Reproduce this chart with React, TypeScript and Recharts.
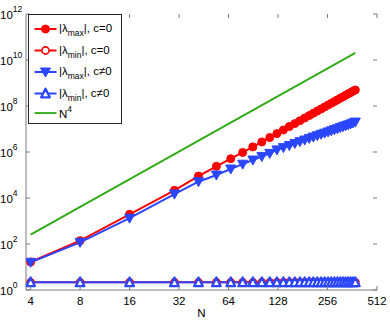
import React from 'react';
import { ComposedChart, Line, XAxis, YAxis, Legend } from 'recharts';

// N values (x)
const nValues = [
  4, 8, 16, 30, 42, 54, 66, 78, 90, 102, 114, 126, 138, 150, 162, 174, 186,
  198, 210, 222, 234, 246, 258, 270, 282, 294, 306, 318, 330, 342, 354, 366, 378,
];

// |lambda_max|, c=0
const maxC0 = [
  16.5, 140, 1960, 2.15e4, 9.0e4, 2.38e5, 5.12e5, 9.6e5, 1.67e6, 2.73e6, 4.24e6,
  6.3e6, 9.07e6, 1.27e7, 1.72e7, 2.29e7, 2.99e7, 3.84e7, 4.84e7, 6.05e7, 7.47e7,
  9.08e7, 1.1e8, 1.32e8, 1.56e8, 1.85e8, 2.17e8, 2.52e8, 2.92e8, 3.37e8, 3.85e8,
  4.4e8, 5.0e8,
];

// |lambda_min|, c=0
const minC0 = [
  2.15, 2.15, 2.15, 2.15, 2.15, 2.15, 2.15, 2.15, 2.15, 2.15, 2.15, 2.15, 2.15,
  2.15, 2.15, 2.15, 2.15, 2.15, 2.15, 2.15, 2.15, 2.15, 2.15, 2.15, 2.15, 2.15,
  2.15, 2.15, 2.15, 2.15, 2.15, 2.15, 2.15,
];

// |lambda_max|, c!=0
const maxC1 = [
  16, 118, 1320, 1.48e4, 5.1e4, 1.0e5, 1.82e5, 2.95e5, 4.47e5, 6.3e5, 8.7e5,
  1.23e6, 1.55e6, 1.91e6, 2.34e6, 2.82e6, 3.31e6, 3.89e6, 4.47e6, 5.13e6, 5.89e6,
  6.61e6, 7.41e6, 8.32e6, 9.33e6, 1.02e7, 1.15e7, 1.26e7, 1.38e7, 1.51e7, 1.66e7,
  1.82e7, 2.0e7,
];

// |lambda_min|, c!=0
const minC1 = [
  2.15, 2.15, 2.15, 2.15, 2.15, 2.15, 2.15, 2.15, 2.15, 2.15, 2.15, 2.15, 2.15,
  2.15, 2.15, 2.15, 2.15, 2.15, 2.15, 2.15, 2.15, 2.15, 2.15, 2.15, 2.15, 2.15,
  2.15, 2.15, 2.15, 2.15, 2.15, 2.15, 2.15,
];

// reference N^4 line, end points
const refN = [4, 378];
const refValues = [256, 20415837456];

const xTicks = [4, 8, 16, 32, 64, 128, 256, 512];
const yTicks = [1, 1e2, 1e4, 1e6, 1e8, 1e10, 1e12];
const yExponents = ['0', '2', '4', '6', '8', '10', '12'];

const data = nValues.map((n, i) => ({
  N: n,
  maxC0: maxC0[i],
  minC0: minC0[i],
  maxC1: maxC1[i],
  minC1: minC1[i],
}));
const refData = refN.map((n, i) => ({ N: n, ref: refValues[i] }));

const W = 390;
const H = 323;
const PLOT_LEFT = 26;
const PLOT_TOP = 14;
const PLOT_RIGHT = 377;
const PLOT_BOTTOM = 290;
const AXIS = '#7a7a7a';
const RED = '#ff0000';
const BLUE = '#2a46ff';
const GREEN = '#2eaa12';
const FONT = '"Liberation Sans", Arial, Helvetica, sans-serif';

const circleFilled = (color: string) => (p: any) => (
  <circle key={`cf${p.index}`} cx={p.cx} cy={p.cy} r={4} fill={color} stroke={color} strokeWidth={1} />
);
const circleOpen = (color: string) => (p: any) => (
  <circle key={`co${p.index}`} cx={p.cx} cy={p.cy} r={3.6} fill="#fff" stroke={color} strokeWidth={1.6} />
);
const triDown = (color: string) => (p: any) => (
  <path
    key={`td${p.index}`}
    d={`M${p.cx - 5},${p.cy - 4}L${p.cx + 5},${p.cy - 4}L${p.cx},${p.cy + 5}Z`}
    fill={color}
    stroke={color}
    strokeWidth={1}
  />
);
const triUp = (color: string) => (p: any) => (
  <path
    key={`tu${p.index}`}
    d={`M${p.cx - 4.3},${p.cy + 3.8}L${p.cx + 4.3},${p.cy + 3.8}L${p.cx},${p.cy - 4.8}Z`}
    fill="#fff"
    stroke={color}
    strokeWidth={2.3}
    strokeLinejoin="round"
  />
);

const XTick = (props: any) => {
  const { x, y, payload } = props;
  return (
    <g>
      <line x1={x} x2={x} y1={y} y2={y - 4} stroke={AXIS} />
      <line x1={x} x2={x} y1={PLOT_TOP} y2={PLOT_TOP + 4} stroke={AXIS} />
      <text x={x} y={y + 15} textAnchor="middle" fontSize={11.5} fontFamily={FONT} fill="#000">
        {payload.value}
      </text>
    </g>
  );
};

const YTick = (props: any) => {
  const { x, y, index } = props;
  return (
    <g>
      <line x1={x} x2={x + 4} y1={y} y2={y} stroke={AXIS} />
      <line x1={PLOT_RIGHT} x2={PLOT_RIGHT - 4} y1={y} y2={y} stroke={AXIS} />
      <text x={0} y={y + 4.5} fontSize={11.5} fontFamily={FONT} fill="#000">
        10
        <tspan dy={-6.5} fontSize={8.5}>
          {yExponents[index]}
        </tspan>
      </text>
    </g>
  );
};

const legendItems = [
  { sub: 'max', tail: '|, c=0', color: RED, marker: 'cf' },
  { sub: 'min', tail: '|, c=0', color: RED, marker: 'co' },
  { sub: 'max', tail: '|, c\u22600', color: BLUE, marker: 'td' },
  { sub: 'min', tail: '|, c\u22600', color: BLUE, marker: 'tu' },
  { sub: '', tail: '', color: GREEN, marker: 'none' },
];

const LegendBox = () => {
  const rows = [29.5, 51, 72.5, 94, 113.5];
  return (
    <svg width={94} height={110} style={{ display: 'block' }}>
      <rect x={0.5} y={0.5} width={93} height={109} fill="#fff" stroke="#262626" strokeWidth={1} />
      {legendItems.map((it, i) => {
        const cy = rows[i] - 14.5;
        const cx = 17.5;
        const p = { cx, cy, index: i };
        let m: any = null;
        if (it.marker === 'cf') m = circleFilled(it.color)(p);
        if (it.marker === 'co') m = circleOpen(it.color)(p);
        if (it.marker === 'td') m = triDown(it.color)(p);
        if (it.marker === 'tu') m = triUp(it.color)(p);
        return (
          <g key={i}>
            <line x1={6.5} x2={28.5} y1={cy} y2={cy} stroke={it.color} strokeWidth={it.marker === 'none' ? 1.8 : 2} />
            {m}
            {it.marker === 'none' ? (
              <text x={31} y={cy + 4.5} fontSize={11.5} fontFamily={FONT} fill="#000">
                N
                <tspan dy={-6} fontSize={8.5}>
                  4
                </tspan>
              </text>
            ) : (
              <text x={31} y={cy + 3} fontSize={11.5} fontFamily={FONT} fill="#000">
                |λ
                <tspan dy={4} fontSize={8.5}>
                  {it.sub}
                </tspan>
                <tspan dy={-4}>{it.tail}</tspan>
              </text>
            )}
          </g>
        );
      })}
    </svg>
  );
};

export default function App() {
  return (
    <div style={{ position: 'absolute', left: 0, top: 0, width: W, height: H, background: '#fff' }}>
      <ComposedChart
        width={W}
        height={H}
        margin={{ top: PLOT_TOP, right: W - PLOT_RIGHT, bottom: 0, left: 0 }}
      >
        <XAxis
          dataKey="N"
          type="number"
          scale="log"
          domain={[3.75, 512]}
          ticks={xTicks}
          allowDataOverflow
          height={H - PLOT_BOTTOM}
          tickSize={0}
          tickMargin={0}
          tickLine={false}
          axisLine={{ stroke: AXIS }}
          tick={<XTick />}
          interval={0}
        />
        <XAxis
          xAxisId="top"
          orientation="top"
          type="number"
          scale="log"
          domain={[3.75, 512]}
          ticks={xTicks}
          allowDataOverflow
          height={0}
          tick={false}
          tickLine={false}
          axisLine={{ stroke: AXIS }}
        />
        <YAxis
          type="number"
          scale="log"
          domain={[1, 1e12]}
          ticks={yTicks}
          allowDataOverflow
          width={PLOT_LEFT}
          tickSize={0}
          tickMargin={0}
          tickLine={false}
          axisLine={{ stroke: AXIS }}
          tick={<YTick />}
          interval={0}
        />
        <YAxis
          yAxisId="right"
          orientation="right"
          type="number"
          scale="log"
          domain={[1, 1e12]}
          ticks={yTicks}
          allowDataOverflow
          width={0}
          tick={false}
          tickLine={false}
          axisLine={{ stroke: AXIS }}
        />
        <Line
          data={data}
          dataKey="maxC0"
          stroke={RED}
          strokeWidth={2}
          dot={circleFilled(RED)}
          isAnimationActive={false}
        />
        <Line
          data={data}
          dataKey="minC0"
          stroke={RED}
          strokeWidth={2}
          dot={circleOpen(RED)}
          isAnimationActive={false}
        />
        <Line
          data={data}
          dataKey="maxC1"
          stroke={BLUE}
          strokeWidth={2}
          dot={triDown(BLUE)}
          isAnimationActive={false}
        />
        <Line
          data={data}
          dataKey="minC1"
          stroke={BLUE}
          strokeWidth={2}
          dot={triUp(BLUE)}
          isAnimationActive={false}
        />
        <Line
          data={refData}
          dataKey="ref"
          stroke={GREEN}
          strokeWidth={1.8}
          dot={false}
          isAnimationActive={false}
        />
        <Legend
          layout="vertical"
          align="center"
          verticalAlign="middle"
          content={() => <LegendBox />}
          wrapperStyle={{ left: 28, top: 14, width: 94, height: 110 }}
        />
      </ComposedChart>
      <div
        style={{
          position: 'absolute',
          left: PLOT_LEFT,
          width: PLOT_RIGHT - PLOT_LEFT,
          top: 307,
          textAlign: 'center',
          fontSize: 11.5,
          fontFamily: FONT,
          lineHeight: '12px',
        }}
      >
        N
      </div>
    </div>
  );
}
